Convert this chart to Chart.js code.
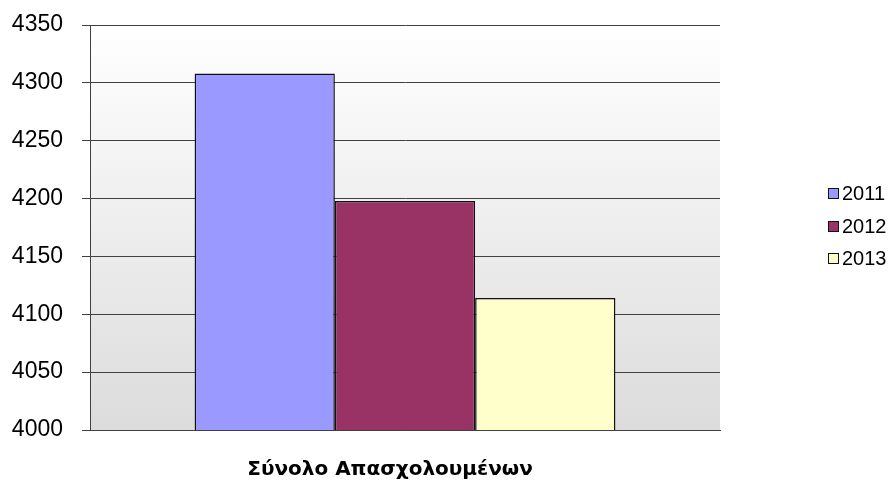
<!DOCTYPE html>
<html>
<head>
<meta charset="utf-8">
<script src="https://cdn.jsdelivr.net/npm/chart.js@4.4.1/dist/chart.umd.min.js"></script>
<style>
    html, body { margin: 0; padding: 0; background: #fff; }
    #wrap { position: relative; width: 892px; height: 484px; }
    #legend { position: absolute; left: 828px; top: 180px; font-family: "Liberation Sans", Arial, sans-serif; font-size: 20px; color: #000; }
    #legend .item { height: 32.5px; line-height: 26px; white-space: nowrap; }
    #legend .box { display: inline-block; width: 9px; height: 9px; border: 1.5px solid #111; margin-right: 3px; vertical-align: 1px; }
</style>
</head>
<body>
<div id="wrap">
    <canvas id="chart" width="892" height="484"></canvas>
    <div id="legend"></div>
</div>
<script>
// data
const categories = ['Σύνολο Απασχολουμένων'];
const years = ['2011', '2012', '2013'];
const values2011 = [4308];
const values2012 = [4198];
const values2013 = [4114];
const yTicks = [4000, 4050, 4100, 4150, 4200, 4250, 4300, 4350];
const barColors = ['#9999FF', '#993366', '#FFFFCC'];

const seriesValues = [values2011, values2012, values2013];

// gray gradient behind the plot area, like the old office charts
const plotBackground = {
    id: 'plotBackground',
    beforeDraw(chart) {
        const { ctx, chartArea } = chart;
        const g = ctx.createLinearGradient(0, chartArea.top, 0, chartArea.bottom);
        g.addColorStop(0, '#ffffff');
        g.addColorStop(1, '#dcdcdc');
        ctx.save();
        ctx.fillStyle = g;
        ctx.fillRect(chartArea.left, chartArea.top, chartArea.right - chartArea.left, chartArea.bottom - chartArea.top);
        ctx.restore();
    }
};

const ctx = document.getElementById('chart').getContext('2d');
new Chart(ctx, {
    type: 'bar',
    data: {
        labels: categories,
        datasets: years.map((y, i) => ({
            label: y,
            data: seriesValues[i],
            backgroundColor: barColors[i],
            borderColor: '#111',
            borderWidth: 1.5,
            categoryPercentage: 0.668,
            barPercentage: 1
        }))
    },
    options: {
        responsive: false,
        animation: false,
        layout: { padding: { top: 25, right: 172, left: 0, bottom: 0 } },
        plugins: {
            legend: { display: false },
            tooltip: { enabled: false }
        },
        scales: {
            x: {
                grid: { display: false, drawTicks: false },
                border: { color: '#404040' },
                ticks: {
                    color: '#000',
                    padding: 28,
                    labelOffset: -15,
                    font: { family: '"DejaVu Sans", sans-serif', size: 20, weight: 'bold' }
                },
                afterFit: s => { s.height = 54; s.paddingLeft = 0; s.paddingRight = 0; }
            },
            y: {
                min: 4000,
                max: 4350,
                afterBuildTicks: s => { s.ticks = yTicks.map(v => ({ value: v })); },
                grid: { color: '#404040', tickLength: 8 },
                border: { color: '#404040' },
                ticks: {
                    color: '#000',
                    padding: 19,
                    callback: v => String(v),
                    font: { family: '"Liberation Sans", Arial, sans-serif', size: 23 }
                },
                afterFit: s => { s.width = 90; s.paddingTop = 0; s.paddingBottom = 0; }
            }
        }
    },
    plugins: [plotBackground]
});

// legend as html, built from the same arrays
document.getElementById('legend').innerHTML = years.map((y, i) =>
    `<div class="item"><span class="box" style="background:${barColors[i]}"></span>${y}</div>`
).join('');
</script>
</body>
</html>
